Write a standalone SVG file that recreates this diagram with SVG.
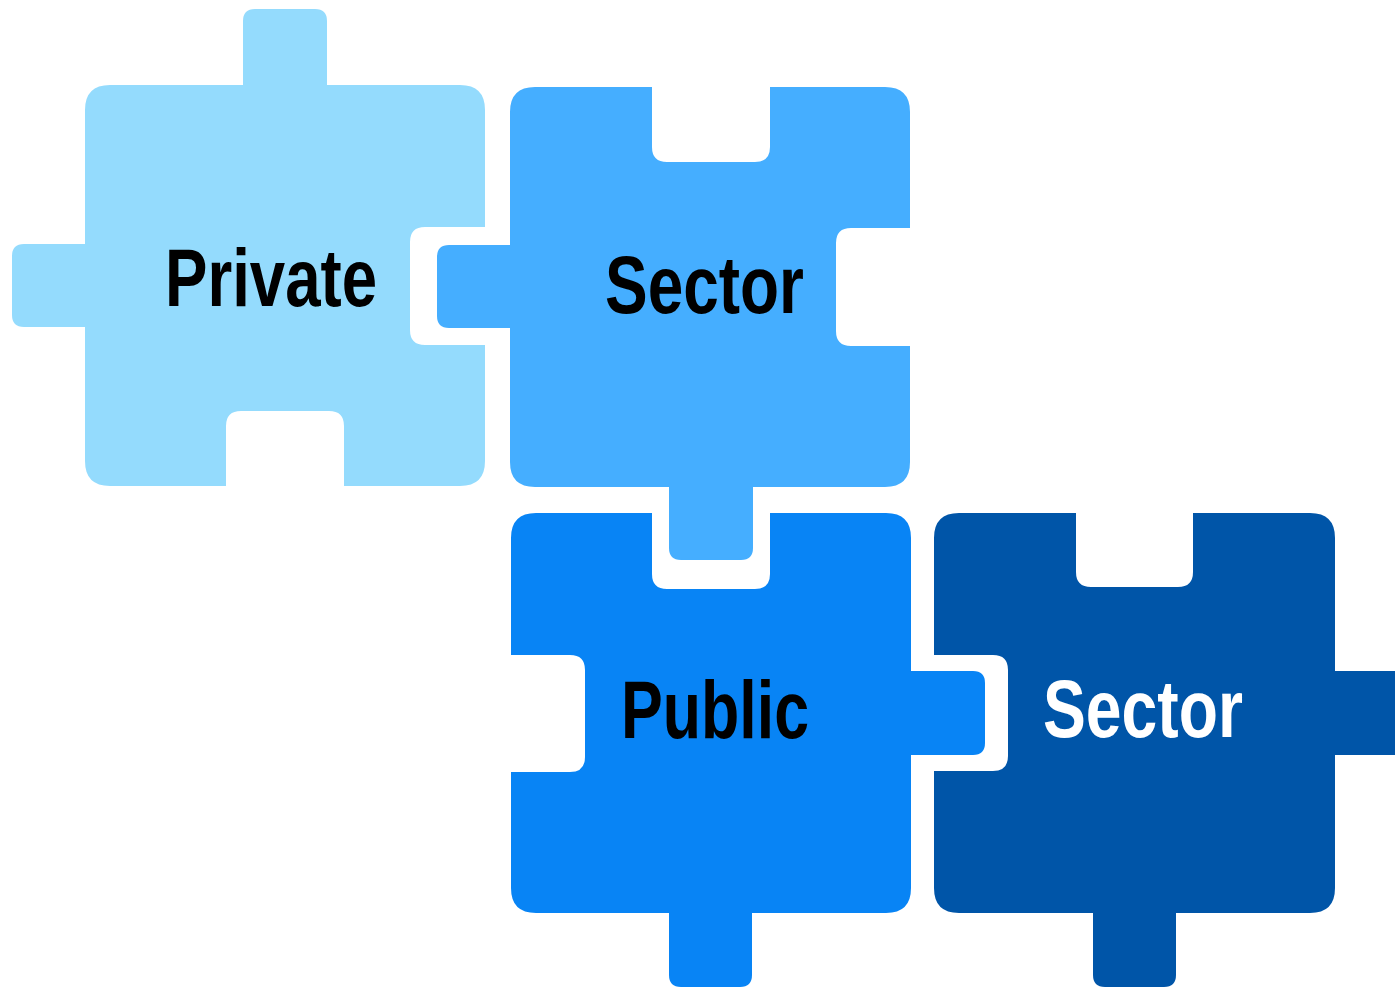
<svg xmlns="http://www.w3.org/2000/svg" width="1395" height="988" viewBox="0 0 1395 988">
<style>
.lbl{font-family:"Liberation Sans Narrow","Liberation Sans",Arial,sans-serif;font-weight:bold;font-size:81px}
.dark{fill:#000}
.light{fill:#fff}
</style>
<rect width="1395" height="988" fill="#fff"/>
<g id="piece-private">
<path fill="#94DBFD" d="M 110 85 H 243 V 21 Q 243 9 255 9 H 315 Q 327 9 327 21 V 85 H 460 Q 485 85 485 110 V 227 H 425 Q 410 227 410 242 V 330 Q 410 345 425 345 H 485 V 461 Q 485 486 460 486 H 344 V 426 Q 344 411 329 411 H 241 Q 226 411 226 426 V 486 H 110 Q 85 486 85 461 V 327 H 24 Q 12 327 12 315 V 256 Q 12 244 24 244 H 85 V 110 Q 85 85 110 85 Z"/>
<text class="lbl dark" x="165" y="306" textLength="212" lengthAdjust="spacingAndGlyphs">Private</text>
</g>
<g id="piece-sector-1">
<path fill="#45AEFF" d="M 535 87 H 652 V 147 Q 652 162 667 162 H 755 Q 770 162 770 147 V 87 H 885 Q 910 87 910 112 V 228 H 851 Q 836 228 836 243 V 331 Q 836 346 851 346 H 910 V 462 Q 910 487 885 487 H 753 V 548 Q 753 560 741 560 H 681 Q 669 560 669 548 V 487 H 535 Q 510 487 510 462 V 328 H 449 Q 437 328 437 316 V 257 Q 437 245 449 245 H 510 V 112 Q 510 87 535 87 Z"/>
<text class="lbl dark" x="605" y="313" textLength="199" lengthAdjust="spacingAndGlyphs">Sector</text>
</g>
<g id="piece-public">
<path fill="#0884F5" d="M 536 513 H 652 V 574 Q 652 589 667 589 H 755 Q 770 589 770 574 V 513 H 886 Q 911 513 911 538 V 671 H 973 Q 985 671 985 683 V 743 Q 985 755 973 755 H 911 V 888 Q 911 913 886 913 H 752 V 975 Q 752 987 740 987 H 681 Q 669 987 669 975 V 913 H 536 Q 511 913 511 888 V 772 H 570 Q 585 772 585 757 V 670 Q 585 655 570 655 H 511 V 538 Q 511 513 536 513 Z"/>
<text class="lbl dark" x="621" y="738" textLength="188" lengthAdjust="spacingAndGlyphs">Public</text>
</g>
<g id="piece-sector-2">
<path fill="#0055A8" d="M 959 513 H 1076 V 572 Q 1076 587 1091 587 H 1178 Q 1193 587 1193 572 V 513 H 1310 Q 1335 513 1335 538 V 671 H 1400 V 755 H 1335 V 888 Q 1335 913 1310 913 H 1176 V 975 Q 1176 987 1164 987 H 1105 Q 1093 987 1093 975 V 913 H 959 Q 934 913 934 888 V 771 H 993 Q 1008 771 1008 756 V 670 Q 1008 655 993 655 H 934 V 538 Q 934 513 959 513 Z"/>
<text class="lbl light" x="1043" y="737" textLength="200" lengthAdjust="spacingAndGlyphs">Sector</text>
</g>
<g id="connectors"></g>
</svg>
